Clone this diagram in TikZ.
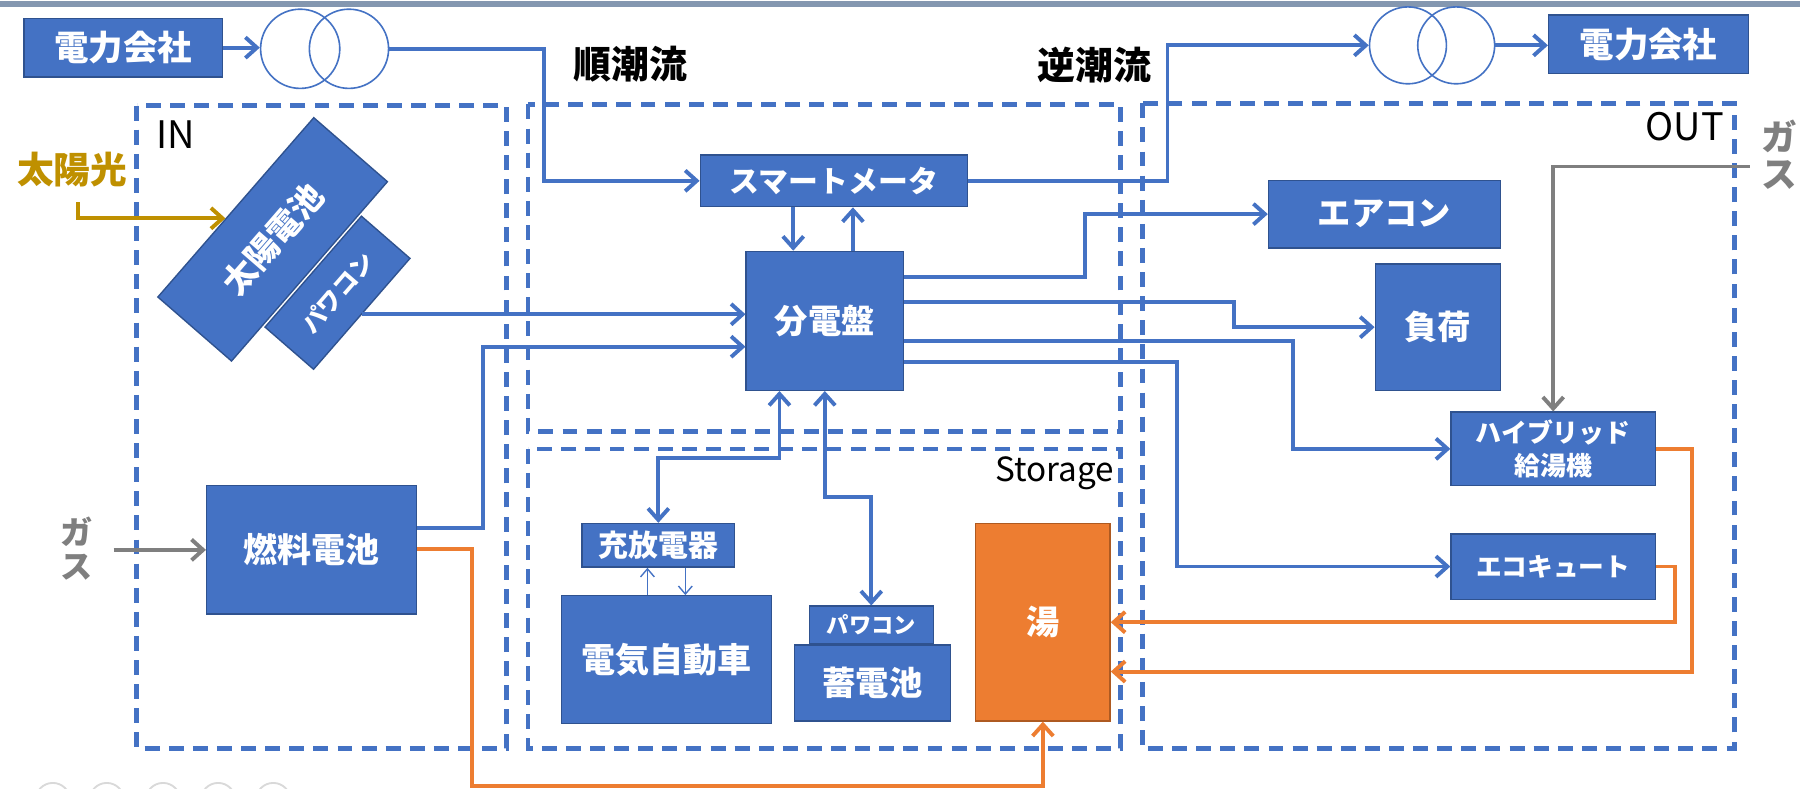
\documentclass[tikz,border=0pt]{standalone}
\usepackage{fontspec}
\setmainfont{Noto Sans CJK JP}
\usetikzlibrary{arrows.meta}
\definecolor{bl}{HTML}{4472C4}
\definecolor{bld}{HTML}{2F528F}
\definecolor{og}{HTML}{ED7D31}
\definecolor{ogd}{HTML}{AE5A21}
\definecolor{gy}{HTML}{7F7F7F}
\definecolor{gd}{HTML}{BF9000}
\definecolor{barc}{HTML}{8497B0}
\newcommand\fsz[2]{\fontsize{#1}{#2}\selectfont}
\begin{document}
\begin{tikzpicture}[x=0.5pt,y=-0.5pt,
  bbox/.style={draw=bld, line width=0.6pt, fill=bl, text=white, inner sep=0pt, align=center},
  obox/.style={bbox, draw=ogd, fill=og},
  zone/.style={draw=bl, line width=2pt, dash pattern=on 6.5pt off 4pt},
  conn/.style={draw=bl, line width=1.7pt, >={Straight Barb[length=5pt,width=9pt]}, ->},
  bidir/.style={conn, <->},
  thinarr/.style={draw=bl, line width=0.6pt, -{Straight Barb[length=3.5pt,width=6pt]}},
  oconn/.style={conn, draw=og},
  gconn/.style={conn, draw=gy},
  sconn/.style={conn, draw=gd},
  trf/.style={circle, draw=bl, line width=0.7pt, inner sep=0pt},
  lbl/.style={inner sep=0pt},
]
\fill[white] (0,0) rectangle (1568,687);
\useasboundingbox (0,0) rectangle (1568,687);
\fill[barc] (0,1) rectangle (1568,6);
\foreach \cx in {46,93,142,190,238} \draw[black!15, line width=0.8pt] (\cx,697) circle[radius=7.5pt];

% zones
\draw[zone] (119,92) rectangle (441,652);
\draw[zone] (460,91) rectangle (976,376);
\draw[zone] (460,391) rectangle (976,652);
\draw[zone] (995,90) rectangle (1511,652);

% zone labels
\node[lbl, anchor=base west, font=\fsz{16.5}{16.5}] (inl) at (136,129) {IN};
\node[lbl, anchor=base east, font=\fsz{16.5}{16.5}] (outl) at (1502,122) {OUT};
\node[lbl, anchor=base east, font=\fsz{14.5}{14.5}] (stl) at (971,419) {Storage};

% boxes
\node[bbox, font=\bfseries\fsz{15}{15}, minimum width=86.5pt, minimum height=25.5pt] (powL) at (107.5,41.5) {電力会社};
\node[bbox, font=\bfseries\fsz{15}{15}, minimum width=87pt, minimum height=25.5pt] (powR) at (1436,38.5) {電力会社};
\node[trf, minimum size=34.5pt] (tL1) at (261.5,42.5) {};
\node[trf, minimum size=34.5pt] (tL2) at (304,42.5) {};
\node[trf, minimum size=33.5pt] (tR1) at (1226.5,39.5) {};
\node[trf, minimum size=33.5pt] (tR2) at (1268.5,39.5) {};
\node[bbox, font=\bfseries\fsz{13}{13}, minimum width=116.5pt, minimum height=22.5pt] (meter) at (726.5,157.5) {スマートメータ};
\node[bbox, font=\bfseries\fsz{14.5}{14.5}, minimum width=68.5pt, minimum height=60.5pt] (board) at (718.5,279.5) {分電盤};
\node[bbox, font=\bfseries\fsz{14.5}{14.5}, minimum width=101pt, minimum height=29.5pt] (aircon) at (1206,186.5) {エアコン};
\node[bbox, font=\bfseries\fsz{14.5}{14.5}, minimum width=54.5pt, minimum height=55pt] (load) at (1252.5,285) {負荷};
\node[bbox, font=\bfseries\fsz{11.3}{14.5}, minimum width=89pt, minimum height=32pt] (hybrid) at (1353,391) {ハイブリッド\\給湯機};
\node[bbox, font=\bfseries\fsz{11.2}{11.2}, minimum width=89pt, minimum height=28.5pt] (eco) at (1353,493.5) {エコキュート};
\node[bbox, font=\bfseries\fsz{14.8}{14.8}, minimum width=91.5pt, minimum height=56pt] (fuel) at (271.5,479) {燃料電池};
\node[bbox, font=\bfseries\fsz{13}{13}, minimum width=66.5pt, minimum height=19pt] (charger) at (573.5,475) {充放電器};
\node[bbox, font=\bfseries\fsz{14.8}{14.8}, minimum width=91.5pt, minimum height=55.5pt] (ev) at (580.5,574.5) {電気自動車};
\node[bbox, font=\bfseries\fsz{9.7}{9.7}, minimum width=54pt, minimum height=16.5pt] (pcs2) at (759,544.5) {パワコン};
\node[bbox, font=\bfseries\fsz{14.5}{14.5}, minimum width=68pt, minimum height=33pt] (batt) at (760,595) {蓄電池};
\node[obox, font=\bfseries\fsz{14.5}{14.5}, minimum width=58.5pt, minimum height=86pt] (hot) at (908.5,542) {湯};
\node[bbox, font=\bfseries\fsz{10.5}{10.5}, rotate=49, minimum width=64pt, minimum height=28pt] (pcs1) at (294,255) {パワコン};
\node[bbox, font=\bfseries\fsz{14.5}{14.5}, rotate=49, minimum width=103.5pt, minimum height=42.5pt] (solar) at (237.5,208.5) {太陽電池};

% free labels
\node[lbl, font=\bfseries\fsz{16.5}{16.5}] (jun) at (549.5,56) {順潮流};
\node[lbl, font=\bfseries\fsz{16.5}{16.5}] (gyaku) at (953.5,56.5) {逆潮流};
\node[lbl, text=gd, font=\bfseries\fsz{16}{16}] (sun) at (63,148) {太陽光};
\node[lbl, text=gy, align=center, font=\bfseries\fsz{14}{15}] (gasL) at (67,478) {ガ\\ス};
\node[lbl, text=gy, align=center, font=\bfseries\fsz{15.5}{16}] (gasR) at (1550,135) {ガ\\ス};

\coordinate (sunS) at (68,176);
\coordinate (gasLo) at (99,479);
\coordinate (gasRo) at (1524,145);

% connectors
\draw[conn] (powL.east) -- (powL.east -| tL1.west);
\draw[conn] (tL2.east) -| (474,100) |- (meter.west);
\draw[conn] (meter.east) -| (1017,100) |- (tR1.west);
\draw[conn] (tR2.east) -- (tR2.east -| powR.west);
\draw[conn] (meter.south -| 691,0) -- (board.north -| 691,0);
\draw[conn] (board.north -| 743,0) -- (meter.south -| 743,0);
\draw[conn] (pcs1.south) -- (pcs1.south -| board.west);
\draw[conn] (fuel.east |- 0,460) -| (421,380) |- (board.west |- 0,302);
\draw[conn] (board.east |- 0,241) -| (945,210) |- (aircon.west);
\draw[conn] (board.east |- 0,263) -| (1075,275) |- (load.west);
\draw[conn] (board.east |- 0,297) -| (1126,350) |- (hybrid.west);
\draw[conn] (board.east |- 0,315) -| (1025,400) |- (eco.west);
\draw[bidir] (board.south -| 679,0) -- (679,399) -| (charger.north);
\draw[bidir] (board.south) -- (718.5,433) -| (pcs2.north);
\draw[thinarr] (ev.north -| 564,0) -- (charger.south -| 564,0);
\draw[thinarr] (charger.south -| 597,0) -- (ev.north -| 597,0);
\draw[gconn] (gasLo) -- (gasLo -| fuel.west);
\draw[gconn] (gasRo) -| (hybrid.north);
\draw[sconn] (sunS) |- (solar.107);
\draw[oconn] (fuel.east |- 0,478) -| (411,685) -| (hot.south);
\draw[oconn] (hybrid.east) -| (1474,500) |- (hot.east |- 0,585);
\draw[oconn] (eco.east) -| (1459,520) |- (hot.east |- 0,542);
\end{tikzpicture}
\end{document}
